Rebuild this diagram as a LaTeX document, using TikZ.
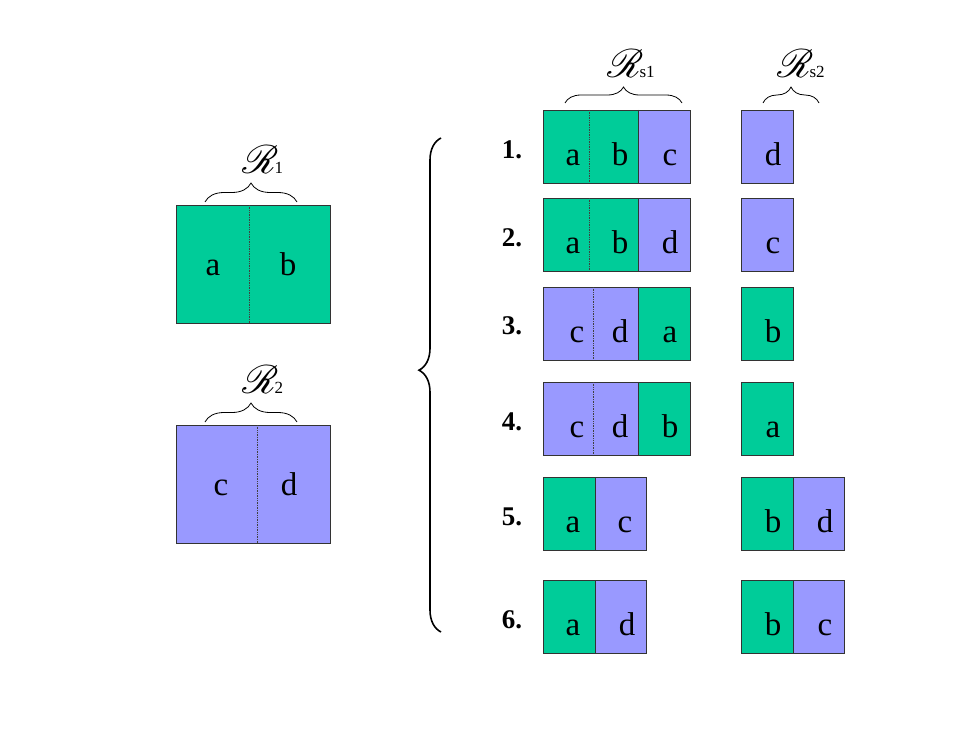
\documentclass[tikz,border=0pt]{standalone}
\usepackage{amsmath, amssymb, mathrsfs}
\usepackage{fontspec}
\setmainfont{Liberation Serif}
\usepackage{tikz}
\usetikzlibrary{decorations.pathreplacing}

\definecolor{cellgreen}{RGB}{0,204,153}
\definecolor{cellpurple}{RGB}{153,153,255}

% two coloured cells side by side: x-left, x-split, x-right, y-top, height, colours
\newcommand\pairbox[7]{%
  \fill[#6] (#1,#4) rectangle (#2,#4+#5);
  \fill[#7] (#2,#4) rectangle (#3,#4+#5);
  \draw[outline] (#1,#4) rectangle (#3,#4+#5);
  \draw[outline] (#2,#4) -- (#2,#4+#5);}
\newcommand\setname[1]{\scalebox{1.6}{\fontsize{24}{28}\selectfont$\mathscr{R}$}\kern-4pt{\fontsize{17}{20}\selectfont #1}}

\begin{document}
\begin{tikzpicture}[x=1pt, y=-1pt,
  outline/.style={draw=black!80, line width=0.9pt},
  divider/.style={densely dotted, line width=0.7pt, draw=black!75},
  letter/.style={anchor=base, inner sep=0pt, font=\fontsize{33}{40}\selectfont},
  rownum/.style={anchor=base, inner sep=0pt, font=\fontsize{27}{32}\selectfont\bfseries},
  setlabel/.style={anchor=base west, inner sep=0pt},
  setbrace/.style={decorate, decoration={brace, amplitude=#1}, line width=0.8pt}
]
  \useasboundingbox (0,0) rectangle (969,749);

  % left: the two relations
  \draw[outline, fill=cellgreen] (176,205) rectangle (330,323);
  \draw[divider] (249,205) -- ++(0,118);
  \draw[outline, fill=cellpurple] (176,425) rectangle (330,543);
  \draw[divider] (257,425) -- ++(0,118);
  \draw[setbrace=19pt] (205,202) -- (297,202);
  \draw[setbrace=19pt] (205,422) -- (297,422);
  \node[setlabel] (rone) at (242,173) {\setname{1}};
  \node[setlabel] (rtwo) at (242,393) {\setname{2}};

  % big brace
  \draw[setbrace=22pt, decoration={aspect=0.53}, line width=1.6pt] (441,632) -- (441,138);

  % right: the six splits
  \pairbox{543}{638}{690}{110}{73}{cellgreen}{cellpurple}
  \draw[divider] (589,110) -- ++(0,73);
  \draw[outline, fill=cellpurple] (741,110) rectangle ++(52,73);

  \pairbox{543}{638}{690}{198}{73}{cellgreen}{cellpurple}
  \draw[divider] (589,198) -- ++(0,73);
  \draw[outline, fill=cellpurple] (741,198) rectangle ++(52,73);

  \pairbox{543}{638}{690}{287}{73}{cellpurple}{cellgreen}
  \draw[divider] (593,287) -- ++(0,73);
  \draw[outline, fill=cellgreen] (741,287) rectangle ++(52,73);

  \pairbox{543}{638}{690}{382}{73}{cellpurple}{cellgreen}
  \draw[divider] (593,382) -- ++(0,73);
  \draw[outline, fill=cellgreen] (741,382) rectangle ++(52,73);

  \pairbox{543}{595}{646}{477}{73}{cellgreen}{cellpurple}
  \pairbox{741}{793}{844}{477}{73}{cellgreen}{cellpurple}

  \pairbox{543}{595}{646}{580}{73}{cellgreen}{cellpurple}
  \pairbox{741}{793}{844}{580}{73}{cellgreen}{cellpurple}

  \draw[setbrace=16pt] (565,103) -- (682,103);
  \draw[setbrace=16pt] (763,103) -- (819,103);
  \node[setlabel] (rsone) at (607,78) {\setname{s1}};
  \node[setlabel] (rstwo) at (777,78) {\setname{s2}};

  % row numbers
  \foreach \n/\y in {1/158, 2/246, 3/334, 4/430, 5/525, 6/628}
    \node[rownum] (num\n) at (512,\y) {\n.};

  % cell letters
  \foreach \nm/\x/\y/\t in {la/213/275/a, lb/288/275/b, lc/221/495/c, ld/289/495/d,
      ia/573/165/a, ib/620/165/b, ic/670/165/c, id/773/165/d,
      iia/573/253/a, iib/620/253/b, iid/670/253/d, iic/773/253/c,
      iiic/577/342/c, iiid/620/342/d, iiia/670/342/a, iiib/773/342/b,
      ivc/577/437/c, ivd/620/437/d, ivb/670/437/b, iva/773/437/a,
      va/573/532/a, vc/625/532/c, vb/773/532/b, vd/825/532/d,
      via/573/635/a, vid/627/635/d, vib/773/635/b, vic/825/635/c}
    \node[letter] (\nm) at (\x,\y) {\t};
\end{tikzpicture}
\end{document}
